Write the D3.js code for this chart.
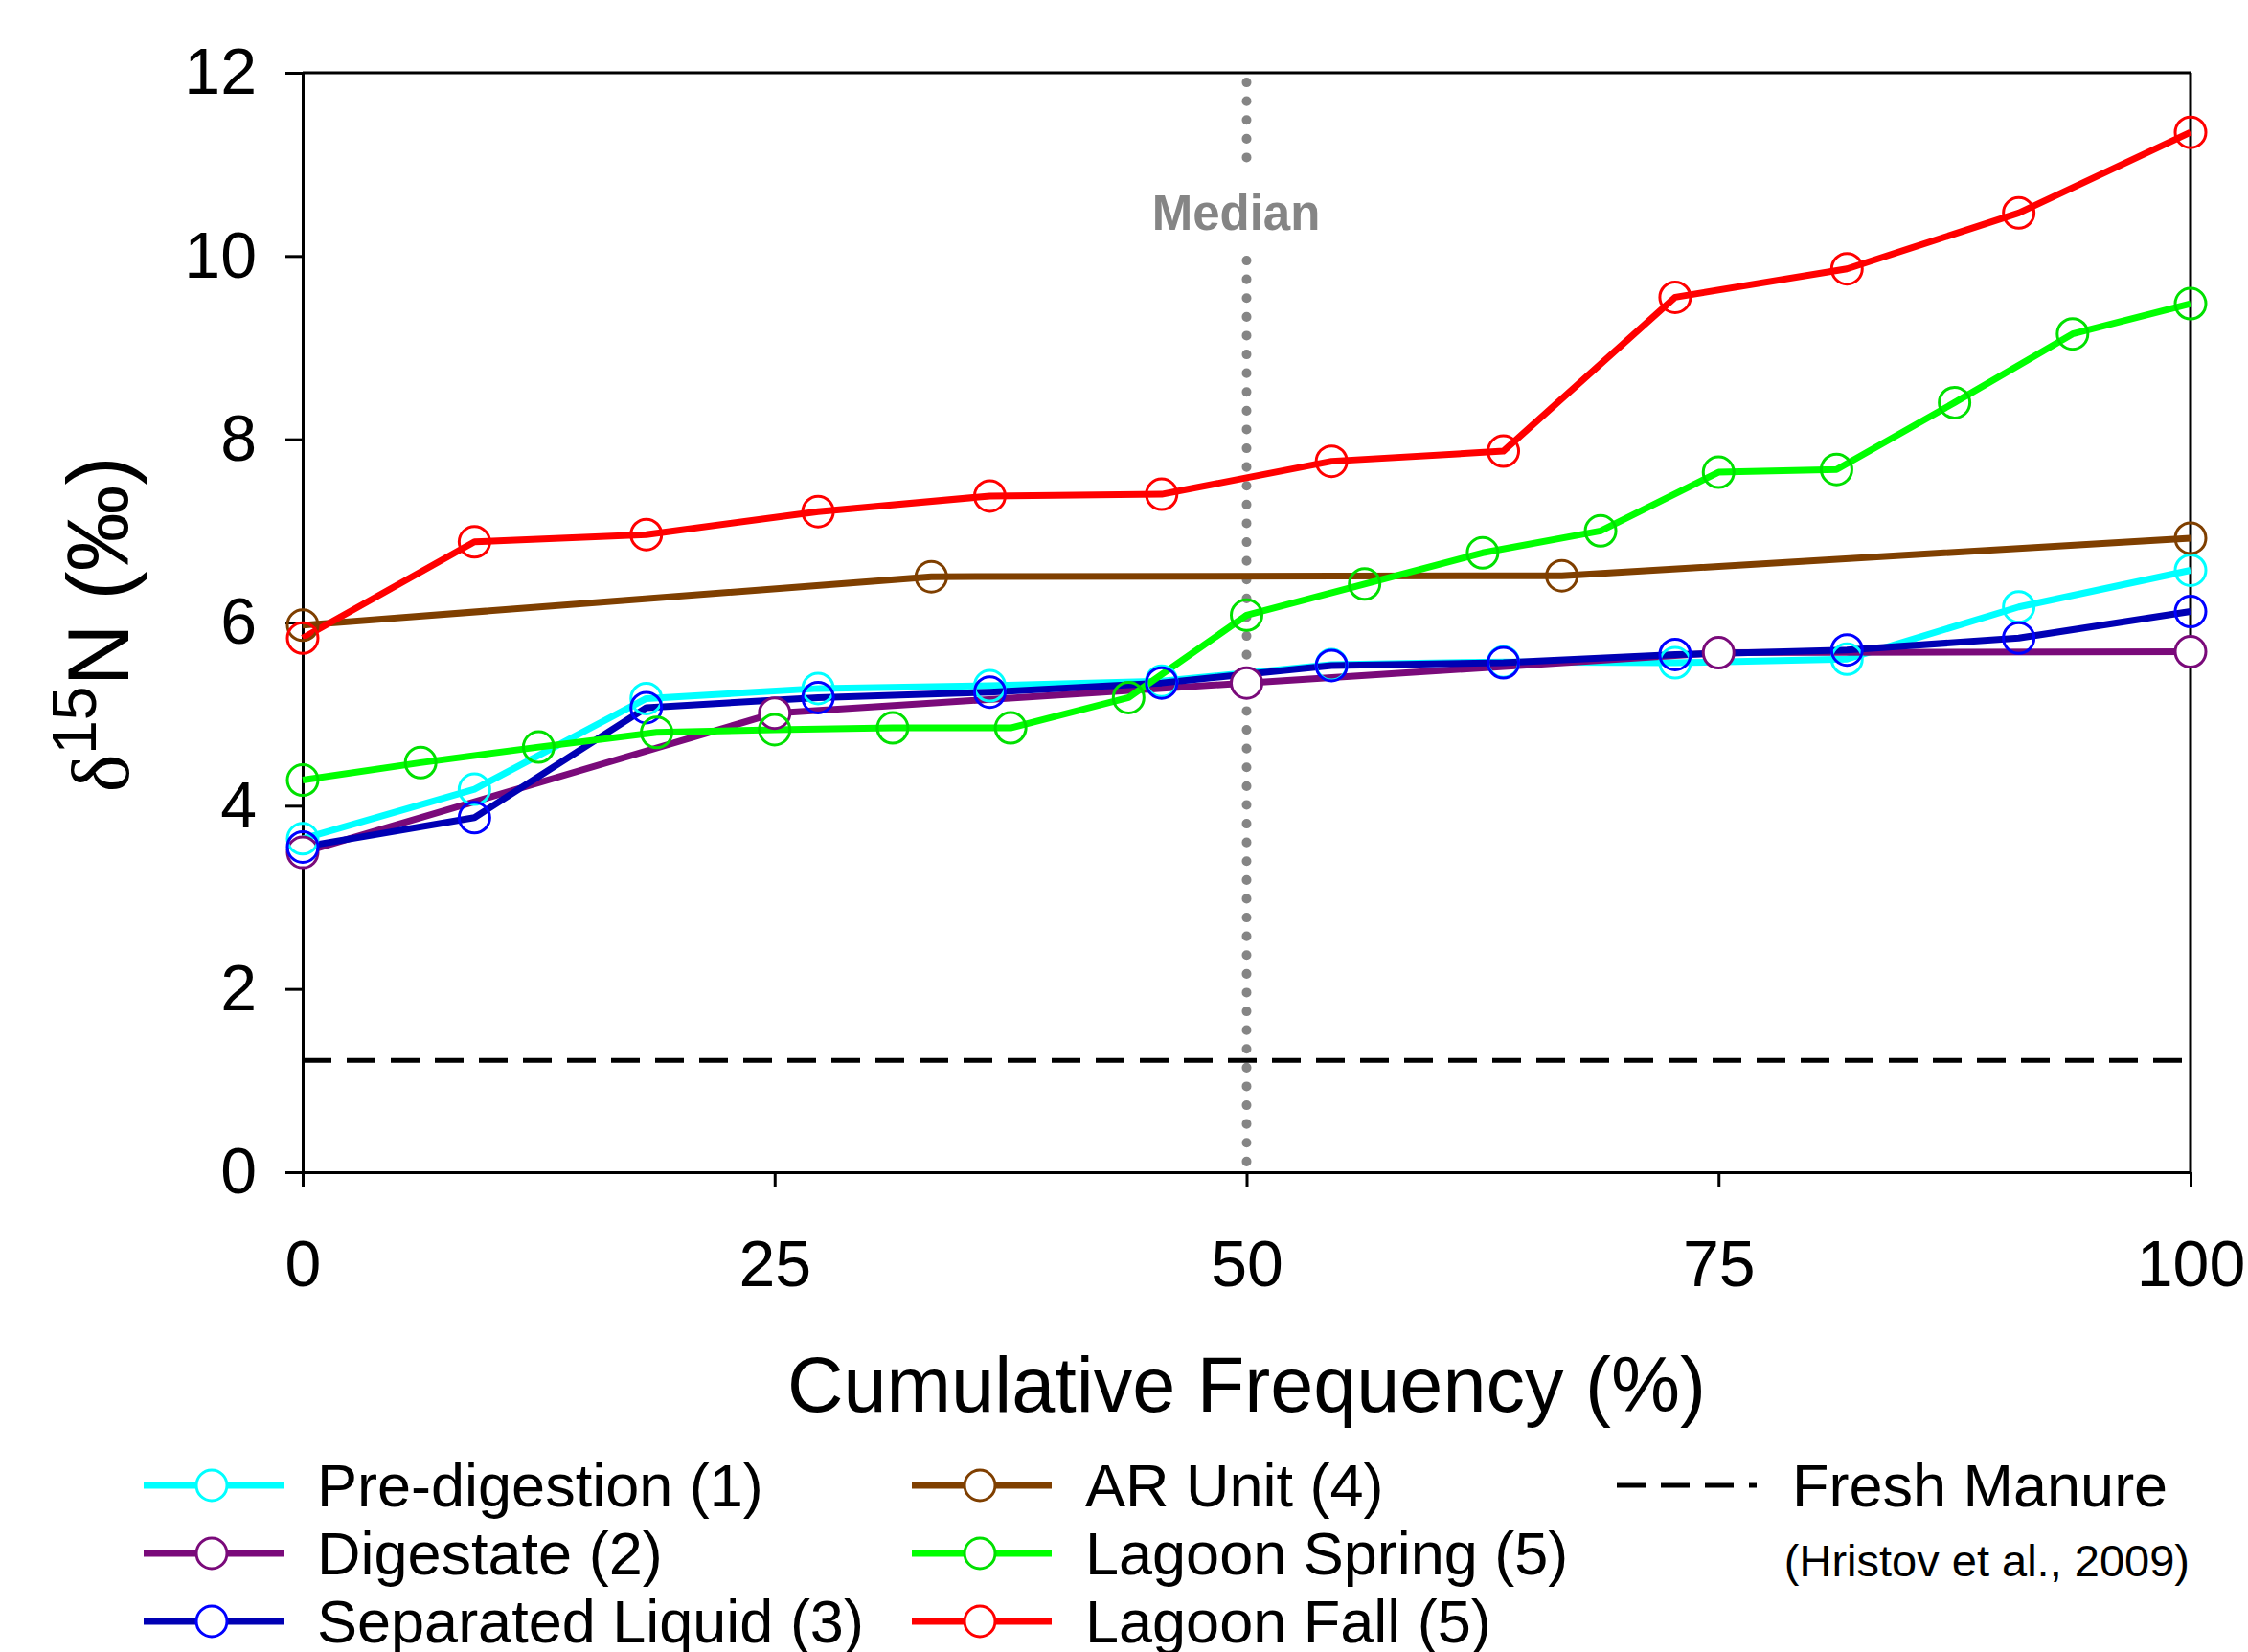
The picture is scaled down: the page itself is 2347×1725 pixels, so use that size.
<!DOCTYPE html>
<html>
<head>
<meta charset="utf-8">
<script src="https://cdn.jsdelivr.net/npm/d3@7"></script>
<style>
    body { margin: 0; background: #fff; }
    text { font-family: "Liberation Sans", Arial, sans-serif; }
    .axis path, .axis line { stroke: #000; stroke-width: 3; }
    .axis text { font-size: 68px; fill: #000; }
</style>
</head>
<body>
<div id="chart"></div>
<script>

// cumulative frequency positions (%)
let freq12 = [0, 9.1, 18.2, 27.3, 36.4, 45.5, 54.5, 63.6, 72.7, 81.8, 90.9, 100];
let freq17 = [0, 6.25, 12.5, 18.75, 25, 31.25, 37.5, 43.75, 50, 56.25, 62.5, 68.75, 75, 81.25, 87.5, 93.75, 100];
let freq5 = [0, 25, 50, 75, 100];
let freq4 = [0, 33.3, 66.7, 100];

// d15N values (permil)
let preDigestion = [3.64, 4.18, 5.17, 5.28, 5.31, 5.36, 5.54, 5.57, 5.56, 5.60, 6.17, 6.57];
let digestate = [3.49, 5.01, 5.34, 5.67, 5.68];
let sepLiquid = [3.55, 3.87, 5.07, 5.18, 5.24, 5.34, 5.53, 5.56, 5.65, 5.70, 5.83, 6.12];
let arUnit = [5.97, 6.50, 6.51, 6.92];
let lagoonSpring = [4.28, 4.47, 4.64, 4.80, 4.83, 4.85, 4.85, 5.18, 6.08, 6.42, 6.76, 7.00, 7.64, 7.67, 8.40, 9.15, 9.48];
let lagoonFall = [5.83, 6.88, 6.96, 7.21, 7.38, 7.40, 7.76, 7.87, 9.55, 9.86, 10.47, 11.35];

let freshManure = 1.22;
let medianX = 50;

let xTicks = [0, 25, 50, 75, 100];
let yTicks = [0, 2, 4, 6, 8, 10, 12];

let seriesNames = ["Pre-digestion (1)", "Digestate (2)", "Separated Liquid (3)", "AR Unit (4)", "Lagoon Spring (5)", "Lagoon Fall (5)"];
let lineColors = ["#00ffff", "#7a0a7a", "#0000b4", "#7f3f00", "#00ff00", "#ff0000"];
let markColors = ["#00ffff", "#7a0a7a", "#0000ff", "#7f3f00", "#00e000", "#ff0000"];

let series = [
    {name: seriesNames[0], x: freq12, y: preDigestion, line: lineColors[0], mark: markColors[0], fill: "none"},
    {name: seriesNames[1], x: freq5, y: digestate, line: lineColors[1], mark: markColors[1], fill: "#fff"},
    {name: seriesNames[2], x: freq12, y: sepLiquid, line: lineColors[2], mark: markColors[2], fill: "none"},
    {name: seriesNames[3], x: freq4, y: arUnit, line: lineColors[3], mark: markColors[3], fill: "none"},
    {name: seriesNames[4], x: freq17, y: lagoonSpring, line: lineColors[4], mark: markColors[4], fill: "none"},
    {name: seriesNames[5], x: freq12, y: lagoonFall, line: lineColors[5], mark: markColors[5], fill: "none"}
];
series.forEach(s => s.points = s.x.map((d, i) => ({x: d, y: s.y[i]})));

let margin = {top: 76, right: 60, bottom: 501, left: 316};
let width = 2347 - margin.left - margin.right,
    height = 1725 - margin.top - margin.bottom;

let svg = d3.select("#chart").append("svg")
    .attr("width", 2347)
    .attr("height", 1725)
    .append("g")
    .attr("transform", "translate(" + margin.left + "," + margin.top + ")");

let x = d3.scaleLinear().domain([0, 100]).range([0, width]);
let y = d3.scaleLinear().domain([0, 12]).range([height, 0]);

// median dotted line (broken around its label)
let dotted = "0.1 19.5";
svg.append("line")
    .attr("x1", x(medianX)).attr("x2", x(medianX))
    .attr("y1", 10).attr("y2", 92)
    .attr("stroke", "#858585").attr("stroke-width", 10)
    .attr("stroke-linecap", "round").attr("stroke-dasharray", dotted);
svg.append("line")
    .attr("x1", x(medianX)).attr("x2", x(medianX))
    .attr("y1", 196).attr("y2", height)
    .attr("stroke", "#858585").attr("stroke-width", 10)
    .attr("stroke-linecap", "round").attr("stroke-dasharray", dotted);
svg.append("text")
    .attr("x", x(medianX) - 11)
    .attr("y", 164)
    .attr("text-anchor", "middle")
    .attr("font-size", 51)
    .attr("font-weight", "bold")
    .attr("fill", "#858585")
    .text("Median");

// fresh manure reference
svg.append("line")
    .attr("x1", 0).attr("x2", width)
    .attr("y1", y(freshManure)).attr("y2", y(freshManure))
    .attr("stroke", "#000").attr("stroke-width", 5)
    .attr("stroke-dasharray", "30 16");

// axes
let yAxis = d3.axisLeft(y).tickValues(yTicks).tickSize(18).tickSizeOuter(0).tickPadding(30);
let xAxis = d3.axisBottom(x).tickValues(xTicks).tickSize(15).tickSizeOuter(0).tickPadding(56);

svg.append("g").attr("class", "y-axis axis").call(yAxis);
svg.append("g").attr("class", "x-axis axis")
    .attr("transform", "translate(0," + height + ")")
    .call(xAxis);

// box top and right
svg.append("line").attr("x1", 0).attr("x2", width).attr("y1", 0).attr("y2", 0)
    .attr("stroke", "#000").attr("stroke-width", 3);
svg.append("line").attr("x1", width).attr("x2", width).attr("y1", 0).attr("y2", height)
    .attr("stroke", "#000").attr("stroke-width", 3);

// series lines
let line = d3.line().x(d => x(d.x)).y(d => y(d.y));
series.forEach(s => {
    svg.append("path")
        .datum(s.points)
        .attr("d", line)
        .attr("fill", "none")
        .attr("stroke", s.line)
        .attr("stroke-width", 7)
        .attr("stroke-linejoin", "round");
});

// markers: digestate (white filled) first, then the rest
let order = [1, 0, 2, 3, 4, 5];
order.forEach(k => {
    let s = series[k];
    svg.append("g").selectAll("circle")
        .data(s.points)
        .enter().append("circle")
        .attr("cx", d => x(d.x))
        .attr("cy", d => y(d.y))
        .attr("r", 16)
        .attr("fill", s.fill)
        .attr("stroke", s.mark)
        .attr("stroke-width", 3);
});

// axis titles
svg.append("text")
    .attr("x", width / 2)
    .attr("y", 1474 - margin.top)
    .attr("text-anchor", "middle")
    .attr("font-size", 81)
    .text("Cumulative Frequency (%)");

let yTitle = svg.append("text")
    .attr("transform", "translate(" + (134 - margin.left) + "," + (652 - margin.top) + ") rotate(-90)")
    .attr("text-anchor", "middle")
    .attr("font-size", 90);
yTitle.append("tspan").attr("font-family", "'Liberation Serif', serif").attr("font-size", 84).text("δ");
yTitle.append("tspan").attr("font-size", 64).attr("dy", -34).text("15");
yTitle.append("tspan").attr("dy", 34).text("N (‰)");

// legend
let legendCols = [150, 952];
let legendRows = [1551, 1622, 1693];
let legend = d3.select("svg").append("g").attr("class", "legend");

series.forEach((s, i) => {
    let lx = legendCols[Math.floor(i / 3)];
    let ly = legendRows[i % 3];
    let g = legend.append("g").attr("transform", "translate(" + lx + "," + ly + ")");
    g.append("line").attr("x1", 0).attr("x2", 146).attr("y1", 0).attr("y2", 0)
        .attr("stroke", s.line).attr("stroke-width", 7);
    g.append("circle").attr("cx", 71).attr("cy", 0).attr("r", 16)
        .attr("fill", "#fff").attr("stroke", s.mark).attr("stroke-width", 3);
    g.append("text").attr("x", 181).attr("y", 22)
        .attr("font-size", 63)
        .text(s.name);
});

let fm = legend.append("g").attr("transform", "translate(1688," + legendRows[0] + ")");
fm.append("line").attr("x1", 0).attr("x2", 146).attr("y1", 0).attr("y2", 0)
    .attr("stroke", "#000").attr("stroke-width", 5).attr("stroke-dasharray", "30 16");
fm.append("text").attr("x", 183).attr("y", 22).attr("font-size", 63).text("Fresh Manure");
legend.append("text")
    .attr("x", 2286).attr("y", 1646)
    .attr("text-anchor", "end")
    .attr("font-size", 47)
    .text("(Hristov et al., 2009)");

</script>
</body>
</html>
